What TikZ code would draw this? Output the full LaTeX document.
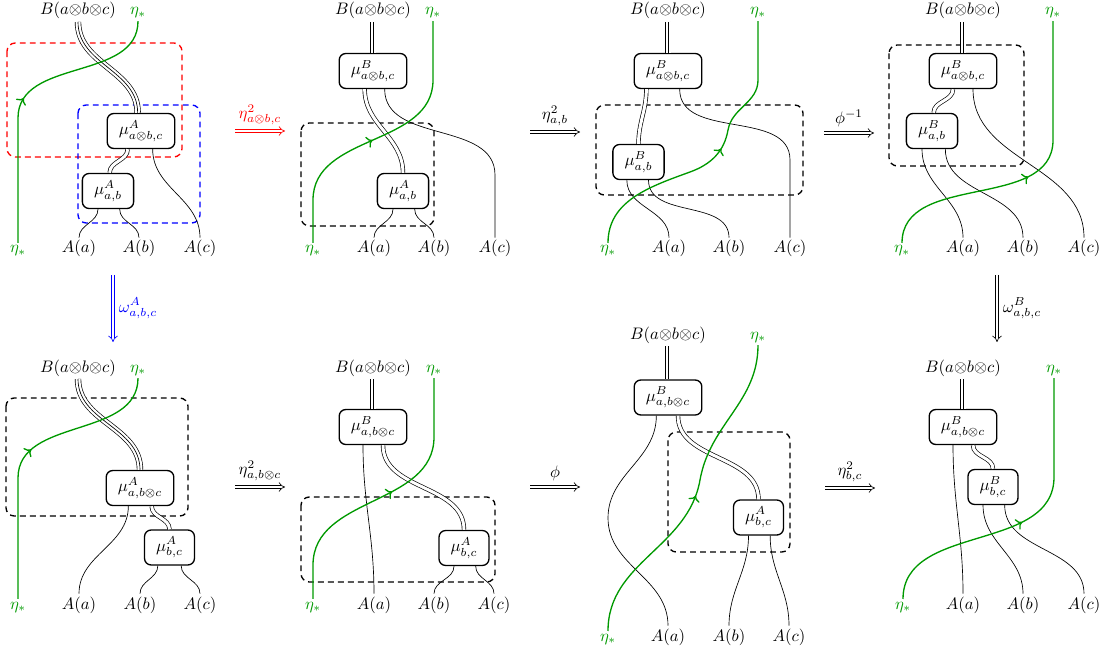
\documentclass[tikz,border=0pt]{standalone}
\usepackage{amsmath}
\usepackage{amssymb}
\usepackage{tikz}
\usetikzlibrary{arrows.meta,decorations.markings}
\definecolor{etagreen}{rgb}{0,0.6,0}
\tikzset{eta arrow/.style={postaction={decorate}, decoration={markings, mark=at position #1 with {\arrow{>}}}}}

\begin{document}
\begin{tikzpicture}[x=0.6pt, y=0.6pt]
      \tikzstyle{lbl}=[anchor=base, inner sep=1.5pt]
      \tikzstyle{eta lbl}=[lbl, text=etagreen]
      \tikzstyle{morph}=[draw, thick, rounded corners=4pt, fill=white, minimum height=21pt, inner xsep=7pt, inner ysep=2pt]
      \tikzstyle{dwire}=[double, double distance=1.8pt]
      \tikzstyle{twire}=[line width=3.8pt, postaction={draw, white, line width=3pt}, postaction={draw, black, line width=0.4pt}]
      \tikzstyle{eta line}=[thick, etagreen]
      \tikzstyle{region}=[thick, dash pattern=on 3.5pt off 2.5pt, rounded corners=5pt]
      \tikzstyle{twocell}=[double, double distance=1.6pt, -{Implies}]

      \useasboundingbox (0,0) rectangle (1108,-656);

      \node[lbl] (p1B) at (78,-15) {$B(a{\otimes}b{\otimes}c)$};
      \node[eta lbl] (p1et) at (138,-15) {$\eta_*$};
      \node[eta lbl] (p1eb) at (18,-253) {$\eta_*$};
      \node[lbl] (p1Aa) at (79,-253) {$A(a)$};
      \node[lbl] (p1Ab) at (139,-253) {$A(b)$};
      \node[lbl] (p1Ac) at (200,-253) {$A(c)$};
      \draw[red, region] (7,-43) rectangle (182,-157);
      \draw[blue, region] (78,-105) rectangle (200,-223);
      \node[morph] (p1m1) at (141,-131) {$\mu^A_{a\otimes b,c}$};
      \node[morph] (p1m2) at (108,-191) {$\mu^A_{a,b}$};
      \draw[twire] (p1B.south) to[out=-90,in=90] ([xshift=-2pt]p1m1.north);
      \draw[dwire] ([xshift=-8pt]p1m1.south) to[out=-90,in=90] ([xshift=1pt]p1m2.north);
      \draw ([xshift=7pt]p1m1.south) to[out=-90,in=90] (p1Ac.north);
      \draw ([xshift=-6pt]p1m2.south) to[out=-90,in=90] (p1Aa.north);
      \draw ([xshift=7pt]p1m2.south) to[out=-90,in=90] (p1Ab.north);
      \draw[eta line, eta arrow=0.5] (p1eb.north) -- (18,-118) to[out=90,in=-90] (p1et.south);

      \node[lbl] (p2B) at (373,-15) {$B(a{\otimes}b{\otimes}c)$};
      \node[eta lbl] (p2et) at (433,-15) {$\eta_*$};
      \node[eta lbl] (p2eb) at (313,-253) {$\eta_*$};
      \node[lbl] (p2Aa) at (374,-253) {$A(a)$};
      \node[lbl] (p2Ab) at (434,-253) {$A(b)$};
      \node[lbl] (p2Ac) at (495,-253) {$A(c)$};
      \draw[region] (301,-123) rectangle (434,-226);
      \node[morph] (p2m1) at (373,-71) {$\mu^B_{a\otimes b,c}$};
      \node[morph] (p2m2) at (403,-191) {$\mu^A_{a,b}$};
      \draw[twire] (p2B.south) -- (p2m1.north);
      \draw[dwire] ([xshift=-5pt]p2m1.south) to[out=-90,in=90] (p2m2.north);
      \draw ([xshift=7pt]p2m1.south) to[out=-90,in=90] (495,-175) -- (p2Ac.north);
      \draw ([xshift=-6pt]p2m2.south) to[out=-90,in=90] (p2Aa.north);
      \draw ([xshift=7pt]p2m2.south) to[out=-90,in=90] (p2Ab.north);
      \draw[eta line, eta arrow=0.47] (p2eb.north) -- (313,-200) to[out=90,in=-90] (433,-80) -- (p2et.south);

      \node[lbl] (p3B) at (668,-15) {$B(a{\otimes}b{\otimes}c)$};
      \node[eta lbl] (p3et) at (758,-15) {$\eta_*$};
      \node[eta lbl] (p3eb) at (608,-253) {$\eta_*$};
      \node[lbl] (p3Aa) at (669,-253) {$A(a)$};
      \node[lbl] (p3Ab) at (729,-253) {$A(b)$};
      \node[lbl] (p3Ac) at (790,-253) {$A(c)$};
      \draw[region] (596,-105) rectangle (803,-195);
      \node[morph] (p3m1) at (668,-71) {$\mu^B_{a\otimes b,c}$};
      \node[morph] (p3m2) at (638.5,-162) {$\mu^B_{a,b}$};
      \draw[twire] (p3B.south) -- (p3m1.north);
      \draw[dwire] ([xshift=-13pt]p3m1.south) to[out=-90,in=90] (p3m2.north);
      \draw ([xshift=7pt]p3m1.south) to[out=-90,in=90] (790,-160) -- (p3Ac.north);
      \draw ([xshift=-7pt]p3m2.south) to[out=-90,in=90] (p3Aa.north);
      \draw ([xshift=6pt]p3m2.south) to[out=-90,in=90] (p3Ab.north);
      \draw[eta line, eta arrow=0.53] (p3eb.north) to[out=90,in=200] (690,-172) to[out=20,in=-100] (728,-130) to[out=80,in=-90] (758,-80) -- (p3et.south);

      \node[lbl] (p4B) at (963,-15) {$B(a{\otimes}b{\otimes}c)$};
      \node[eta lbl] (p4et) at (1053,-15) {$\eta_*$};
      \node[eta lbl] (p4eb) at (902,-253) {$\eta_*$};
      \node[lbl] (p4Aa) at (963,-253) {$A(a)$};
      \node[lbl] (p4Ab) at (1023,-253) {$A(b)$};
      \node[lbl] (p4Ac) at (1084,-253) {$A(c)$};
      \draw[region] (889,-45) rectangle (1024,-166);
      \node[morph] (p4m1) at (963,-71) {$\mu^B_{a\otimes b,c}$};
      \node[morph] (p4m2) at (932,-131) {$\mu^B_{a,b}$};
      \draw[twire] (p4B.south) -- (p4m1.north);
      \draw[dwire] ([xshift=-6pt]p4m1.south) to[out=-90,in=90] ([xshift=1pt]p4m2.north);
      \draw ([xshift=6pt]p4m1.south) to[out=-90,in=90] (p4Ac.north);
      \draw ([xshift=-6pt]p4m2.south) to[out=-90,in=90] (p4Aa.north);
      \draw ([xshift=8pt]p4m2.south) to[out=-90,in=90] (p4Ab.north);
      \draw[eta line, eta arrow=0.48] (p4eb.north) to[out=90,in=-90] (1053,-140) -- (p4et.south);

      \node[lbl] (p5B) at (78,-372) {$B(a{\otimes}b{\otimes}c)$};
      \node[eta lbl] (p5et) at (138,-372) {$\eta_*$};
      \node[eta lbl] (p5eb) at (18,-609) {$\eta_*$};
      \node[lbl] (p5Aa) at (79,-609) {$A(a)$};
      \node[lbl] (p5Ab) at (140,-609) {$A(b)$};
      \node[lbl] (p5Ac) at (200,-609) {$A(c)$};
      \draw[region] (6,-398) rectangle (188,-516);
      \node[morph] (p5m1) at (140,-488) {$\mu^A_{a,b\otimes c}$};
      \node[morph] (p5m2) at (169.5,-547.5) {$\mu^A_{b,c}$};
      \draw[twire] (p5B.south) to[out=-90,in=90] (p5m1.north);
      \draw ([xshift=-7pt]p5m1.south) to[out=-90,in=90] (p5Aa.north);
      \draw[dwire] ([xshift=7pt]p5m1.south) to[out=-90,in=90] (p5m2.north);
      \draw ([xshift=-7pt]p5m2.south) to[out=-90,in=90] (p5Ab.north);
      \draw ([xshift=7pt]p5m2.south) to[out=-90,in=90] (p5Ac.north);
      \draw[eta line, eta arrow=0.53] (p5eb.north) -- (18,-478) to[out=90,in=-90] (p5et.south);

      \node[lbl] (p6B) at (373,-372) {$B(a{\otimes}b{\otimes}c)$};
      \node[eta lbl] (p6et) at (434,-372) {$\eta_*$};
      \node[eta lbl] (p6eb) at (313,-609) {$\eta_*$};
      \node[lbl] (p6Aa) at (374,-609) {$A(a)$};
      \node[lbl] (p6Ab) at (434,-609) {$A(b)$};
      \node[lbl] (p6Ac) at (494,-609) {$A(c)$};
      \draw[region] (301,-497) rectangle (495,-582);
      \node[morph] (p6m1) at (373,-427) {$\mu^B_{a,b\otimes c}$};
      \node[morph] (p6m2) at (464,-548) {$\mu^A_{b,c}$};
      \draw[twire] (p6B.south) -- (p6m1.north);
      \draw ([xshift=-6pt]p6m1.south) to[out=-90,in=90] (p6Aa.north);
      \draw[dwire] ([xshift=6pt]p6m1.south) to[out=-90,in=90] (p6m2.north);
      \draw ([xshift=-6pt]p6m2.south) to[out=-90,in=90] (p6Ab.north);
      \draw ([xshift=7pt]p6m2.south) to[out=-90,in=90] (p6Ac.north);
      \draw[eta line, eta arrow=0.53] (p6eb.north) -- (313,-565) to[out=90,in=-90] (434,-437) -- (p6et.south);

      \node[lbl] (p7B) at (668,-339) {$B(a{\otimes}b{\otimes}c)$};
      \node[eta lbl] (p7et) at (758,-339) {$\eta_*$};
      \node[eta lbl] (p7eb) at (608,-641) {$\eta_*$};
      \node[lbl] (p7Aa) at (668,-641) {$A(a)$};
      \node[lbl] (p7Ab) at (729,-641) {$A(b)$};
      \node[lbl] (p7Ac) at (789,-641) {$A(c)$};
      \draw[region] (668,-432) rectangle (790,-552);
      \node[morph] (p7m1) at (668,-397.5) {$\mu^B_{a,b\otimes c}$};
      \node[morph] (p7m2) at (758.5,-517.5) {$\mu^A_{b,c}$};
      \draw[twire] (p7B.south) -- (p7m1.north);
      \draw ([xshift=-7pt]p7m1.south) to[out=-90,in=90] (608,-518) to[out=-90,in=90] (p7Aa.north);
      \draw[dwire] ([xshift=6pt]p7m1.south) to[out=-90,in=90] (p7m2.north);
      \draw ([xshift=-6pt]p7m2.south) to[out=-90,in=90] (p7Ab.north);
      \draw ([xshift=7pt]p7m2.south) to[out=-90,in=90] (p7Ac.north);
      \draw[eta line, eta arrow=0.5] (p7eb.north) to[out=90,in=-100] (700,-480) to[out=80,in=-90] (p7et.south);

      \node[lbl] (p8B) at (963,-372) {$B(a{\otimes}b{\otimes}c)$};
      \node[eta lbl] (p8et) at (1054,-372) {$\eta_*$};
      \node[eta lbl] (p8eb) at (903,-609) {$\eta_*$};
      \node[lbl] (p8Aa) at (963,-609) {$A(a)$};
      \node[lbl] (p8Ab) at (1023,-609) {$A(b)$};
      \node[lbl] (p8Ac) at (1084,-609) {$A(c)$};
      \node[morph] (p8m1) at (963,-427) {$\mu^B_{a,b\otimes c}$};
      \node[morph] (p8m2) at (993,-487) {$\mu^B_{b,c}$};
      \draw[twire] (p8B.south) -- (p8m1.north);
      \draw ([xshift=-6pt]p8m1.south) to[out=-90,in=90] (p8Aa.north);
      \draw[dwire] ([xshift=6pt]p8m1.south) to[out=-90,in=90] (p8m2.north);
      \draw ([xshift=-6pt]p8m2.south) to[out=-90,in=90] (p8Ab.north);
      \draw ([xshift=7pt]p8m2.south) to[out=-90,in=90] (p8Ac.north);
      \draw[eta line, eta arrow=0.49] (p8eb.north) to[out=90,in=-90] (1054,-477) -- (p8et.south);

      \coordinate (r12a) at (235,-131);
      \coordinate (r12b) at (285,-131);
      \coordinate (r23a) at (530,-132);
      \coordinate (r23b) at (580,-132);
      \coordinate (r34a) at (824,-133);
      \coordinate (r34b) at (874,-133);
      \coordinate (c15a) at (113,-275);
      \coordinate (c15b) at (113,-342);
      \coordinate (r56a) at (235,-487);
      \coordinate (r56b) at (285,-487);
      \coordinate (r67a) at (530,-487);
      \coordinate (r67b) at (580,-487);
      \coordinate (r78a) at (825,-488);
      \coordinate (r78b) at (875,-488);
      \coordinate (c48a) at (997,-275);
      \coordinate (c48b) at (997,-342);
      \draw[twocell, red] (r12a) -- node[above] {$\eta^2_{a\otimes b,c}$} (r12b);
      \draw[twocell] (r23a) -- node[above] {$\eta^2_{a,b}$} (r23b);
      \draw[twocell] (r34a) -- node[above] {$\phi^{-1}$} (r34b);
      \draw[twocell, blue] (c15a) -- node[right] {$\omega^A_{a,b,c}$} (c15b);
      \draw[twocell] (r56a) -- node[above] {$\eta^2_{a,b\otimes c}$} (r56b);
      \draw[twocell] (r67a) -- node[above] {$\phi$} (r67b);
      \draw[twocell] (r78a) -- node[above] {$\eta^2_{b,c}$} (r78b);
      \draw[twocell] (c48a) -- node[right] {$\omega^B_{a,b,c}$} (c48b);
\end{tikzpicture}
\end{document}
